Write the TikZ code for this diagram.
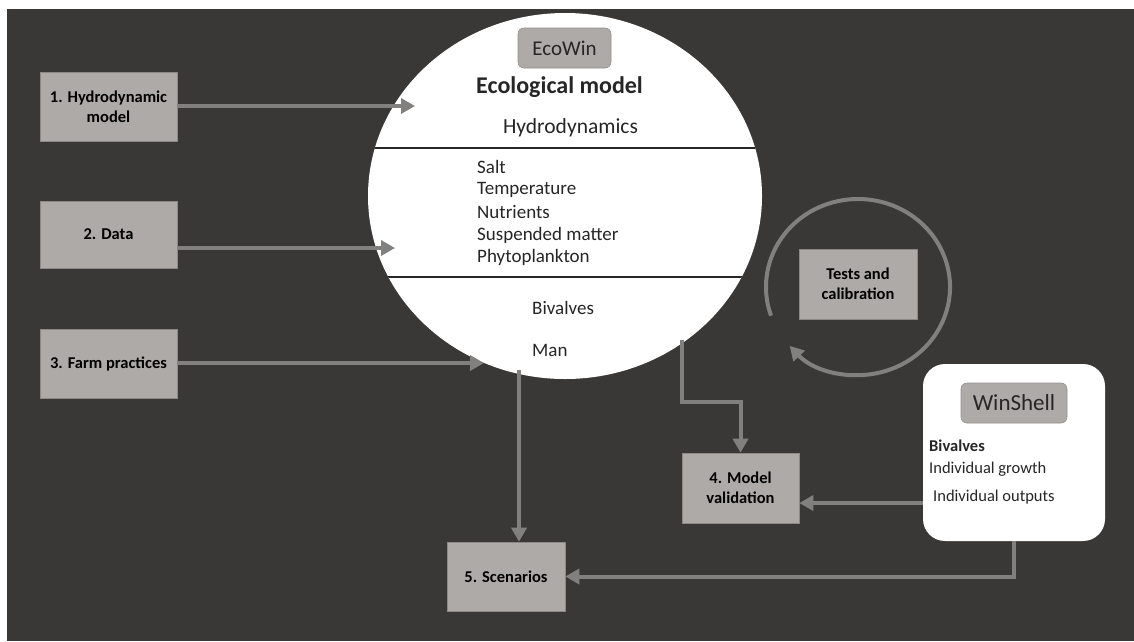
\documentclass[tikz,border=0pt]{standalone}
\usepackage{fontspec}
\setmainfont{Carlito}
\usetikzlibrary{calc,shapes.geometric,arrows.meta}

\definecolor{bgdark}{HTML}{3A3836}
\definecolor{boxgray}{HTML}{AEAAA7}
\definecolor{arrgray}{HTML}{82807E}
\definecolor{txtdark}{HTML}{262626}

\tikzset{
	stepbox/.style={fill=boxgray, draw=boxgray!80!black, line width=0.6pt, align=center, inner sep=1pt,
		text=black, font=\bfseries\fontsize{16.5}{20}\selectfont},
	tagbox/.style={fill=boxgray, draw=boxgray!85!black, line width=0.6pt, rounded corners=6pt, inner sep=0pt,
		text=txtdark},
	flow/.style={draw=arrgray, line width=4pt, -{Triangle[length=14pt,width=15pt]}},
	ecotext/.style={text=txtdark, inner sep=0pt, font=\fontsize{19}{23}\selectfont},
}

\begin{document}
\begin{tikzpicture}[x=1pt,y=-1pt]
		%frame
		\useasboundingbox (0,0) rectangle (1134,641);
		\fill[white] (0,0) rectangle (1134,641);
		\fill[bgdark] (7,9) rectangle (1134,641);
		
		%ecological model
		\node[ellipse, fill=white, inner sep=0pt, minimum width=394pt, minimum height=366pt] (eco) at (565,196) {};
		\begin{scope}
			\clip (565,196) ellipse [x radius=197, y radius=183];
			\draw[txtdark, line width=1.6pt] (360,148) -- (770,148);
			\draw[txtdark, line width=1.6pt] (360,277) -- (770,277);
		\end{scope}
		\node[tagbox, minimum width=93pt, minimum height=40pt, font=\fontsize{21}{25}\selectfont] (ecotag) at (564.5,48) {EcoWin};
		\node[ecotext, font=\bfseries\fontsize{24}{29}\selectfont] (ecotitle) at (559.5,87) {Ecological model};
		\node[ecotext, font=\fontsize{21.5}{26}\selectfont] (hydro) at (570.5,128) {Hydrodynamics};
		\foreach \name/\txt/\yy in {salt/Salt/167, temp/Temperature/190, nutr/Nutrients/212, susp/Suspended matter/235, phyto/Phytoplankton/257}
			\node[ecotext, anchor=west] (\name) at (477,\yy) {\txt};
		\node[ecotext, anchor=west] (biv) at (532,308) {Bivalves};
		\node[ecotext, anchor=west] (man) at (532,350) {Man};
		
		%inputs
		\node[stepbox, minimum width=137pt, minimum height=69pt] (hydmod) at (108.5,106.5) {1. Hydrodynamic\\model};
		\node[stepbox, minimum width=137pt, minimum height=67pt] (data) at (108.5,234.5) {2. Data};
		\node[stepbox, minimum width=137pt, minimum height=69pt] (farm) at (108.5,363.5) {3. Farm practices};
		\coordinate (in1) at (415,106);
		\coordinate (in2) at (395,248);
		\coordinate (in3) at (484,363);
		\draw[flow] (hydmod.east |- in1) -- (in1);
		\draw[flow] (data.east |- in2) -- (in2);
		\draw[flow] (farm.east |- in3) -- (in3);
		
		%validation and scenarios
		\node[stepbox, minimum width=117pt, minimum height=70pt] (valid) at (740.5,488) {4. Model\\validation};
		\node[stepbox, minimum width=118pt, minimum height=69pt] (scen) at (506,576.5) {5. Scenarios};
		\node[stepbox, minimum width=118pt, minimum height=70pt] (tests) at (858,284) {Tests and\\calibration};
		\coordinate (out1) at (519,370);
		\coordinate (out2) at (682,340);
		\draw[flow] (out1) -- (out1 |- scen.north);
		\draw[flow] (out2) |- ($(valid.north)+(0,-51)$) -- (valid.north);
		
		%calibration loop
		\draw[flow] (858,287) ++(161:92 and 88) arc[start angle=161, end angle=498, x radius=92, y radius=88];
		
		%winshell
		\node[fill=white, rounded corners=22pt, minimum width=182pt, minimum height=177pt, inner sep=0pt] (ws) at (1014,452.5) {};
		\node[tagbox, minimum width=106pt, minimum height=40pt, font=\fontsize{23}{27}\selectfont] (wstag) at (1014,403) {WinShell};
		\node[ecotext, anchor=west, font=\bfseries\fontsize{16.5}{19}\selectfont] (wsbiv) at (929,446) {Bivalves};
		\node[ecotext, anchor=west, font=\fontsize{16.5}{20}\selectfont] (wsgrow) at (929,469) {Individual growth};
		\node[ecotext, anchor=west, font=\fontsize{16.5}{20}\selectfont] (wsout) at (933,497) {Individual outputs};
		\coordinate (wsleft) at (923,503);
		\draw[flow] (wsleft) -- (valid.east |- wsleft);
		\draw[flow] (ws.south) |- (scen.east);
		
		\end{tikzpicture}
\end{document}
